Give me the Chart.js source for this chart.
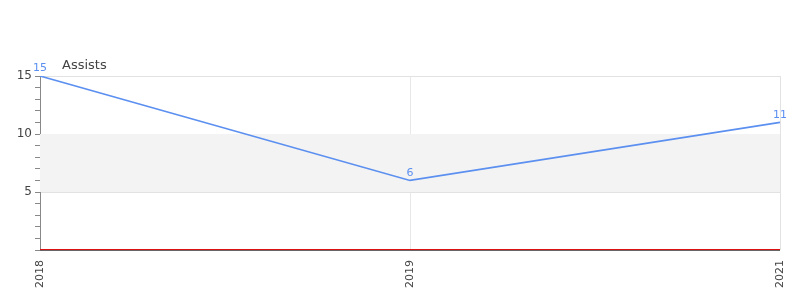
<!DOCTYPE html>
<html>
<head>
<meta charset="utf-8">
<script src="https://cdn.jsdelivr.net/npm/chart.js@4/dist/chart.umd.min.js"></script>
<style>
  body { margin: 0; background: #fff; }
  #wrap { width: 800px; height: 300px; }
</style>
</head>
<body>
<div id="wrap"><canvas id="mycanvas"></canvas></div>
<script>
// data
var seasons = ['2018', '2019', '2021'];
var assists = [15, 6, 11];
var majorTicks = [5, 10, 15];
var band = [5, 10];
var chartTitle = 'Assists';

var font = 'DejaVu Sans, sans-serif';

// shaded band between 5 and 10
var bandPlugin = {
	id: 'band',
	beforeDatasetsDraw: function(chart){
		var y = chart.scales.y, a = chart.chartArea, c = chart.ctx;
		var top = y.getPixelForValue(band[1]);
		var bot = y.getPixelForValue(band[0]);
		c.save();
		c.fillStyle = '#f3f3f3';
		c.fillRect(a.left, top, a.right - a.left, bot - top);
		// right edge line
		c.strokeStyle = '#e2e2e2';
		c.lineWidth = 1;
		c.beginPath();
		c.moveTo(a.right + 0.5, a.top);
		c.lineTo(a.right + 0.5, a.bottom);
		c.stroke();
		c.restore();
	},
	afterDraw: function(chart){
		var y = chart.scales.y, a = chart.chartArea, c = chart.ctx;
		var y0 = Math.round(y.getPixelForValue(0));
		c.save();
		c.strokeStyle = '#666';
		c.lineWidth = 1;
		c.beginPath();
		c.moveTo(a.left, y0 + 0.5);
		c.lineTo(a.right, y0 + 0.5);
		c.stroke();
		c.strokeStyle = '#dd1111';
		c.beginPath();
		c.moveTo(a.left, y0 - 0.5);
		c.lineTo(a.right, y0 - 0.5);
		c.stroke();
		c.restore();
	}
};

// value labels above points + title
var labelPlugin = {
	id: 'labels',
	afterDatasetsDraw: function(chart){
		var c = chart.ctx;
		var meta = chart.getDatasetMeta(0);
		c.save();
		c.font = '11px ' + font;
		c.fillStyle = '#5b8ff0';
		c.textAlign = 'center';
		c.textBaseline = 'bottom';
		meta.data.forEach(function(pt, i){
			c.fillText(String(assists[i]), pt.x, pt.y - 2);
		});
		c.font = '13px ' + font;
		c.fillStyle = '#444';
		c.textAlign = 'left';
		c.textBaseline = 'middle';
		c.fillText(chartTitle, chart.chartArea.left + 22, 66);
		c.restore();
	}
};

var chartdata = {
	labels: seasons,
	datasets: [
		{
			label: chartTitle,
			data: assists,
			borderColor: '#5b8ff0',
			backgroundColor: '#5b8ff0',
			borderWidth: 1.6,
			pointRadius: 0,
			tension: 0,
			fill: false
		}
	]
};

var cxt = document.getElementById('mycanvas');
var lineGraph = new Chart(cxt, {
	type: 'line',
	data: chartdata,
	plugins: [bandPlugin, labelPlugin],
	options: {
		responsive: true,
		maintainAspectRatio: false,
		animation: false,
		layout: { padding: { top: 76, right: 20, left: 0, bottom: 0 } },
		plugins: {
			legend: { display: false },
			title: { display: false },
			tooltip: { enabled: false }
		},
		scales: {
			x: {
				offset: false,
				afterFit: function(s){ s.height = 50; s.paddingRight = 0; s.paddingLeft = 0; },
				grid: { color: '#e8e8e8', drawTicks: false },
				border: { display: false },
				ticks: {
					color: '#444',
					font: { family: font, size: 11 },
					minRotation: 90,
					maxRotation: 90,
					padding: 10,
					autoSkip: false
				}
			},
			y: {
				min: 0,
				max: 15,
				afterFit: function(s){ s.width = 40; s.paddingTop = 0; s.paddingBottom = 0; },
				border: { color: '#888', width: 1 },
				grid: {
					color: function(ctx){
						var v = ctx.tick && ctx.tick.value;
						return majorTicks.indexOf(v) >= 0 ? '#e2e2e2' : 'rgba(0,0,0,0)';
					},
					tickColor: '#888',
					tickLength: 5
				},
				ticks: {
					stepSize: 1,
					autoSkip: false,
					color: '#444',
					font: { family: font, size: 12 },
					padding: 3,
					callback: function(v){ return majorTicks.indexOf(v) >= 0 ? v : ''; }
				}
			}
		}
	}
});
</script>
</body>
</html>
